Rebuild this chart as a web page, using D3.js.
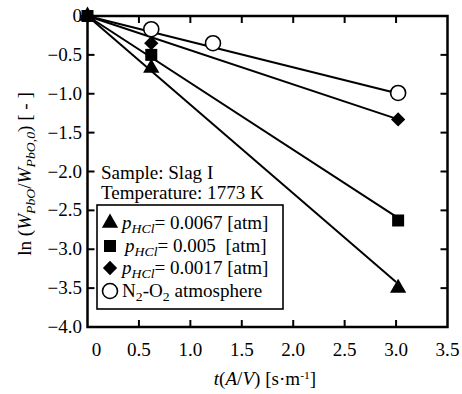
<!DOCTYPE html>
<html>
<head>
<meta charset="utf-8">
<script src="https://cdn.jsdelivr.net/npm/d3@7"></script>
<style>
  body { margin: 0; background: #fff; }
  text { font-family: "Liberation Serif", "Times New Roman", serif; fill: #000; }
</style>
</head>
<body>
<svg id="chart" width="462" height="394"></svg>
<script>
// measured values
const xTicks = [0, 0.5, 1.0, 1.5, 2.0, 2.5, 3.0, 3.5]
const yTicks = [0, -0.5, -1.0, -1.5, -2.0, -2.5, -3.0, -3.5, -4.0]

const triX = [0, 0.62, 3.02], triY = [0, -0.67, -3.5]
const sqX = [0, 0.62, 3.02], sqY = [0, -0.50, -2.63]
const diaX = [0, 0.62, 3.02], diaY = [0, -0.35, -1.33]
const cirX = [0.62, 1.22, 3.02], cirY = [-0.17, -0.35, -0.99]

// fitted slopes through origin, drawn to t(A/V)=3.0
const fitSlopes = [-1.14, -0.86, -0.44, -0.33]
const fitEnd = 3.0

const legendLabels = ['0.0067 [atm]', '0.005  [atm]', '0.0017 [atm]', 'atmosphere']

;(function(){
  var svg = d3.select('#chart')
  var TX = 1.06 // horizontal stretch of the text in the source image

  var x = d3.scaleLinear().domain([0, 3.5]).range([87.5, 447.5])
  var y = d3.scaleLinear().domain([0, -4]).range([16, 327])

  function txt(px, py, anchor, size) {
    return svg.append('text')
      .attr('transform', 'translate(' + px + ',' + py + ') scale(' + TX + ',1)')
      .attr('text-anchor', anchor || 'start')
      .attr('font-size', size || 18)
  }

  // fitted lines
  var lineGen = d3.line().x(d => x(d[0])).y(d => y(d[1]))
  svg.append('g').selectAll('path')
    .data(fitSlopes).enter().append('path')
    .attr('d', k => lineGen([[0, 0], [fitEnd, k * fitEnd]]))
    .attr('fill', 'none').attr('stroke', '#000').attr('stroke-width', 2)

  // frame
  svg.append('rect')
    .attr('x', x(0)).attr('y', y(0))
    .attr('width', x(3.5) - x(0)).attr('height', y(-4) - y(0))
    .attr('fill', 'none').attr('stroke', '#000').attr('stroke-width', 2.5)

  // inward ticks all round
  var tl = 7
  var ax = svg.append('g').attr('stroke', '#000').attr('stroke-width', 2)
  xTicks.slice(1, -1).forEach(function(t) {
    ax.append('line').attr('x1', x(t)).attr('x2', x(t)).attr('y1', y(-4)).attr('y2', y(-4) - tl)
    ax.append('line').attr('x1', x(t)).attr('x2', x(t)).attr('y1', y(0)).attr('y2', y(0) + tl)
  })
  yTicks.slice(1, -1).forEach(function(t) {
    ax.append('line').attr('x1', x(0)).attr('x2', x(0) + tl).attr('y1', y(t)).attr('y2', y(t))
    ax.append('line').attr('x1', x(3.5)).attr('x2', x(3.5) - tl).attr('y1', y(t)).attr('y2', y(t))
  })

  // tick labels
  xTicks.forEach(function(t) {
    var px = t === 0 ? x(t) + 9 : x(t)
    txt(px, 356, 'middle').text(t === 0 ? '0' : d3.format('.1f')(t))
  })
  yTicks.forEach(function(t) {
    txt(82, y(t) + 6, 'end').text(t === 0 ? '0' : d3.format('.1f')(t))
  })

  // axis titles
  var xl = txt(265, 385, 'middle')
  xl.append('tspan').attr('font-style', 'italic').text('t')
  xl.append('tspan').text('(')
  xl.append('tspan').attr('font-style', 'italic').text('A')
  xl.append('tspan').text('/')
  xl.append('tspan').attr('font-style', 'italic').text('V')
  xl.append('tspan').text(') [s\u00b7m')
  xl.append('tspan').attr('font-size', 11).attr('dy', -6).text('-1')
  xl.append('tspan').attr('dy', 6).text(']')

  var yl = svg.append('text')
    .attr('transform', 'translate(31,174) rotate(-90) scale(' + TX + ',1)')
    .attr('text-anchor', 'middle').attr('font-size', 18)
  yl.append('tspan').text('ln (')
  yl.append('tspan').attr('font-style', 'italic').text('W')
  yl.append('tspan').attr('font-style', 'italic').attr('font-size', 13).attr('dy', 4).text('PbO')
  yl.append('tspan').attr('dy', -4).text('/')
  yl.append('tspan').attr('font-style', 'italic').text('W')
  yl.append('tspan').attr('font-style', 'italic').attr('font-size', 13).attr('dy', 4).text('PbO,0')
  yl.append('tspan').attr('dy', -4).text(')  [ - ]')

  // markers
  var sym = function(type, size) { return d3.symbol().type(type).size(size)() }
  var g = svg.append('g')
  g.selectAll('.cir').data(cirX).enter().append('circle')
    .attr('cx', d => x(d)).attr('cy', (d, i) => y(cirY[i])).attr('r', 7.5)
    .attr('fill', '#fff').attr('stroke', '#000').attr('stroke-width', 1.6)
  g.selectAll('.dia').data(diaX).enter().append('path')
    .attr('d', sym(d3.symbolDiamond2, 130))
    .attr('transform', (d, i) => 'translate(' + x(d) + ',' + y(diaY[i]) + ')')
  g.selectAll('.tri').data(triX).enter().append('path')
    .attr('d', sym(d3.symbolTriangle, 115))
    .attr('transform', (d, i) => 'translate(' + x(d) + ',' + y(triY[i]) + ')')
  g.selectAll('.sq').data(sqX).enter().append('rect')
    .attr('x', d => x(d) - 6).attr('y', (d, i) => y(sqY[i]) - 6)
    .attr('width', 12).attr('height', 12)

  // sample info
  txt(101, 179, 'start').text('Sample: Slag I')
  txt(101, 199, 'start').text('Temperature: 1773 K')

  // legend box
  svg.append('rect').attr('x', 97).attr('y', 205).attr('width', 186).attr('height', 104)
    .attr('fill', '#fff').attr('stroke', '#000').attr('stroke-width', 1.6)

  var rowsY = [223, 246, 268, 291]
  var lg = svg.append('g')
  lg.append('path').attr('d', sym(d3.symbolTriangle, 115)).attr('transform', 'translate(110,' + rowsY[0] + ')')
  lg.append('rect').attr('x', 104).attr('y', rowsY[1] - 6).attr('width', 12).attr('height', 12)
  lg.append('path').attr('d', sym(d3.symbolDiamond2, 130)).attr('transform', 'translate(110,' + rowsY[2] + ')')
  lg.append('circle').attr('cx', 110).attr('cy', rowsY[3]).attr('r', 7.5)
    .attr('fill', '#fff').attr('stroke', '#000').attr('stroke-width', 1.6)

  legendLabels.forEach(function(lab, i) {
    var t = txt(i === 1 ? 125 : 122, rowsY[i] + 6, 'start')
    if (i < 3) {
      t.append('tspan').attr('font-style', 'italic').text('p')
      t.append('tspan').attr('font-style', 'italic').attr('font-size', 13).attr('dy', 4).text('HCl')
      t.append('tspan').attr('dy', -4).attr('xml:space', 'preserve').text('= ' + lab)
    } else {
      t.append('tspan').text('N')
      t.append('tspan').attr('font-size', 13).attr('dy', 4).text('2')
      t.append('tspan').attr('dy', -4).text('-O')
      t.append('tspan').attr('font-size', 13).attr('dy', 4).text('2')
      t.append('tspan').attr('dy', -4).text(' ' + lab)
    }
  })
})()
</script>
</body>
</html>
